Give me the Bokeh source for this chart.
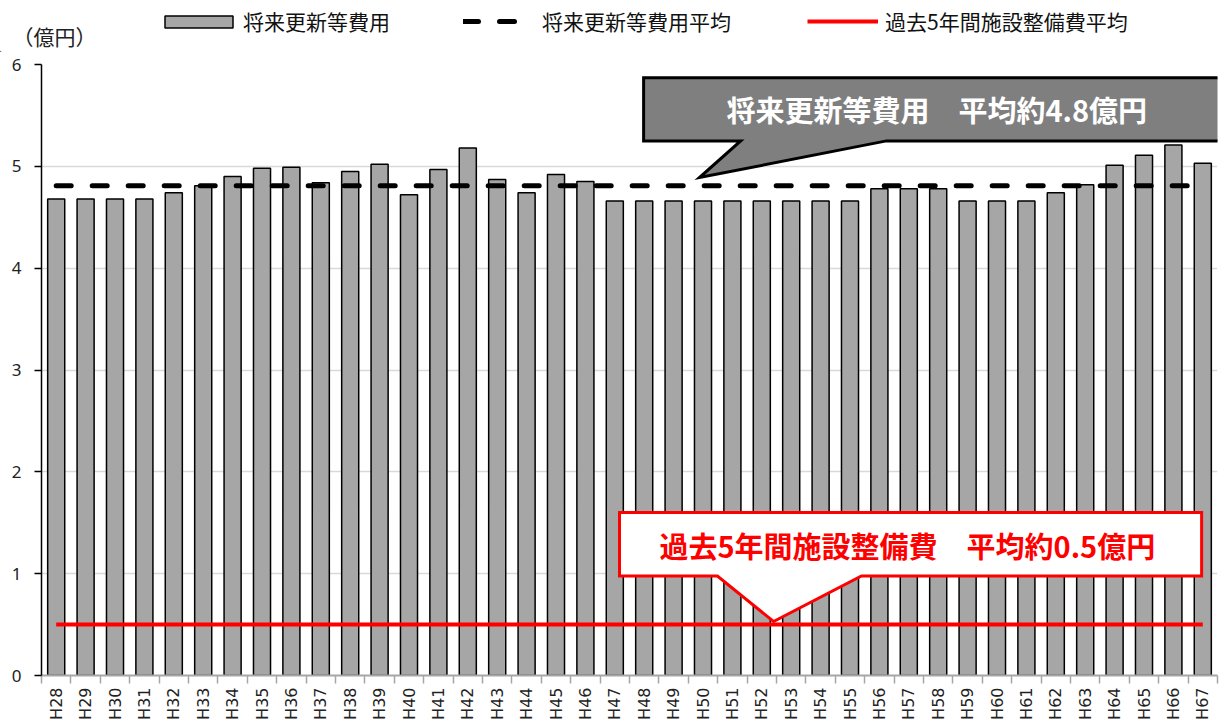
from bokeh.plotting import figure
from bokeh.layouts import column, row
from bokeh.models import Range1d, FixedTicker, Legend, LegendItem
from bokeh.core.properties import value
from bokeh.embed import file_html
from bokeh.resources import INLINE
import math

# Fiscal years (Heisei notation) and projected renewal costs, 100 million yen
years = ["H28", "H29", "H30", "H31", "H32", "H33", "H34", "H35", "H36", "H37",
         "H38", "H39", "H40", "H41", "H42", "H43", "H44", "H45", "H46", "H47",
         "H48", "H49", "H50", "H51", "H52", "H53", "H54", "H55", "H56", "H57",
         "H58", "H59", "H60", "H61", "H62", "H63", "H64", "H65", "H66", "H67"]
future_costs = [4.68, 4.68, 4.68, 4.68, 4.74, 4.81, 4.90, 4.98, 4.99, 4.84,
                4.95, 5.02, 4.72, 4.97, 5.18, 4.87, 4.74, 4.92, 4.85, 4.66,
                4.66, 4.66, 4.66, 4.66, 4.66, 4.66, 4.66, 4.66, 4.78, 4.78,
                4.78, 4.66, 4.66, 4.66, 4.74, 4.82, 5.01, 5.11, 5.21, 5.03]
past_facility_avg = 0.5
y_ticks = [0, 1, 2, 3, 4, 5, 6]
series_names = ["将来更新等費用", "将来更新等費用平均", "過去5年間施設整備費平均"]
unit_label = "（億円）"

future_avg = sum(future_costs) / len(future_costs)

JP = "Noto Sans CJK JP"
W = 1221
HEAD_H = 52

# shared series styles
bar_style = dict(fill_color="#a6a6a6", line_color="black", line_width=1.5)
avg_style = dict(line_color="black", line_width=5, line_dash="15 21", line_cap="round")
past_style = dict(line_color="#ff0000", line_width=4)

n = len(years)
xs = [i + 0.5 for i in range(n)]

# ---------------- main chart ----------------
p = figure(width=W, height=722 - HEAD_H, output_backend="svg", toolbar_location=None,
           x_range=Range1d(0, n), y_range=Range1d(y_ticks[0], y_ticks[-1]),
           min_border_left=41, min_border_right=4, min_border_top=12,
           min_border_bottom=46)
p.outline_line_color = None
p.background_fill_color = "white"
p.border_fill_color = "white"

p.xgrid.grid_line_color = None
p.ygrid.grid_line_color = "#d9d9d9"
p.ygrid.grid_line_width = 1.3
p.yaxis.ticker = FixedTicker(ticks=y_ticks)

p.yaxis.axis_line_color = "black"
p.yaxis.axis_line_width = 1.5
p.yaxis.major_tick_line_color = "black"
p.yaxis.major_tick_line_width = 1.3
p.yaxis.major_tick_out = 7
p.yaxis.major_tick_in = 0
p.yaxis.minor_tick_line_color = None
p.yaxis.major_label_standoff = 13
p.yaxis.major_label_text_font = "Noto Sans"
p.yaxis.major_label_text_font_size = "17px"
p.yaxis.major_label_text_color = "#222222"

# labels at category centres, tick marks on category boundaries
p.xaxis.ticker = FixedTicker(ticks=xs, minor_ticks=list(range(n + 1)))
p.xaxis.major_label_overrides = {x: lab for x, lab in zip(xs, years)}
p.xaxis.axis_line_color = "#a6a6a6"
p.xaxis.axis_line_width = 2
p.xaxis.major_tick_line_color = None
p.xaxis.major_tick_out = 8
p.xaxis.major_tick_in = 0
p.xaxis.minor_tick_line_color = "#a6a6a6"
p.xaxis.minor_tick_line_width = 1.5
p.xaxis.minor_tick_out = 8
p.xaxis.minor_tick_in = 0
p.xaxis.major_label_orientation = math.pi / 2
p.xaxis.major_label_standoff = 4
p.xaxis.major_label_text_font = "DejaVu Sans"
p.xaxis.major_label_text_font_size = "16px"
p.xaxis.major_label_text_color = "#222222"

p.vbar(x=xs, top=future_costs, width=0.58, bottom=0, **bar_style)
p.line(x=[xs[0], xs[-1]], y=[future_avg, future_avg], **avg_style)
p.line(x=[xs[0], xs[-1]], y=[past_facility_avg, past_facility_avg], **past_style)

# callout for the renewal-cost average (grey box with tail)
top_tip = future_avg + 0.08
p.patch(x=[20.48, 41.0, 41.0, 28.74, 22.38, 23.78, 20.48],
        y=[5.87, 5.87, 5.25, 5.25, top_tip, 5.25, 5.25],
        fill_color="#7f7f7f", line_color="black", line_width=3,
        line_join="miter")
p.text(x=[30.45], y=[5.56],
       text=[f"将来更新等費用　平均約{future_avg:.1f}億円"],
       text_font=value(JP), text_font_style="bold", text_font_size="29px",
       text_color="white", text_align="center", text_baseline="middle")

# callout for the past facility-maintenance average (white box with tail)
bot_tip = past_facility_avg + 0.03
p.patch(x=[19.66, 39.46, 39.46, 27.89, 24.9, 22.99, 19.66],
        y=[1.60, 1.60, 0.977, 0.977, bot_tip, 0.977, 0.977],
        fill_color="white", line_color="#ff0000", line_width=3,
        line_join="miter")
p.text(x=[29.45], y=[1.28],
       text=[f"過去5年間施設整備費　平均約{past_facility_avg:.1f}億円"],
       text_font=value(JP), text_font_style="bold", text_font_size="29px",
       text_color="#ff0000", text_align="center", text_baseline="middle")

# ---------------- header strip: legend and unit caption ----------------
head = figure(width=W, height=HEAD_H, output_backend="svg", toolbar_location=None,
              x_range=Range1d(0, W), y_range=Range1d(0, HEAD_H),
              x_axis_type=None, y_axis_type=None,
              min_border=0)
head.outline_line_color = None
head.grid.visible = False
head.background_fill_color = "white"
head.border_fill_color = "white"

# proxy renderers (placed off-canvas) that carry the series styles into the legend
r_bar = head.vbar(x=[-500], top=[1], bottom=[0], width=1, **bar_style)
r_avg = head.line(x=[-500, -499], y=[0, 0], **avg_style)
r_past = head.line(x=[-500, -499], y=[0, 0], **past_style)

head.text(x=[12], y=[HEAD_H - 35], text=[unit_label], text_font=value(JP),
          text_font_size="21px", text_color="#222222",
          text_align="left", text_baseline="middle")

# (label, renderer, left edge, glyph width, glyph height, standoff)
entries = [
    (series_names[0], r_bar, 156, 85, 15, 2),
    (series_names[1], r_avg, 463, 55, 26, 24),
    (series_names[2], r_past, 807, 71, 26, 7),
]
for label, rend, x0, gw, gh, standoff in entries:
    lg = Legend(items=[LegendItem(label=label, renderers=[rend])],
                location=(x0, HEAD_H - 23 - 13), orientation="horizontal")
    lg.glyph_width = gw
    lg.glyph_height = gh
    lg.label_standoff = standoff
    lg.label_height = 26
    lg.padding = 0
    lg.margin = 0
    lg.border_line_color = None
    lg.background_fill_alpha = 0
    lg.label_text_font = JP
    lg.label_text_font_size = "21px"
    lg.label_text_color = "#111111"
    head.add_layout(lg)

layout = column(row(head, spacing=0), p, spacing=0)
open("out.html", "w").write(file_html(layout, INLINE))
